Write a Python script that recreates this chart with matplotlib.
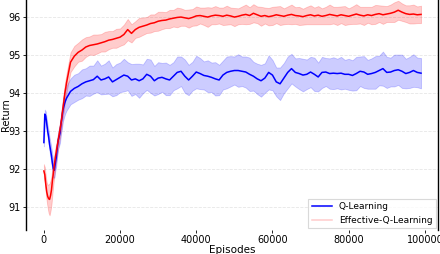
import numpy as np
import matplotlib
matplotlib.use("Agg")
import matplotlib.pyplot as plt
from matplotlib.lines import Line2D

# episodes: fine steps at the start, then every 1000
episodes = list(range(0, 6001, 250)) + list(range(7000, 99001, 1000))

q_mean = [
    92.70, 93.45, 93.40, 93.20, 93.00, 92.85, 92.65, 92.50, 92.35, 92.15,
    92.00, 91.97, 92.15, 92.30, 92.55, 92.75, 92.85, 92.95, 93.20, 93.35,
    93.55, 93.65, 93.75, 93.82, 93.88,
    94.05, 94.13, 94.18, 94.25, 94.30, 94.33, 94.36, 94.45, 94.35, 94.38,
    94.43, 94.30, 94.36, 94.42, 94.48, 94.45, 94.35, 94.38, 94.33, 94.38,
    94.50, 94.45, 94.33, 94.40, 94.42, 94.38, 94.35, 94.45, 94.55, 94.58,
    94.45, 94.35, 94.45, 94.56, 94.52, 94.47, 94.45, 94.42, 94.38, 94.35,
    94.48, 94.55, 94.58, 94.60, 94.60, 94.58, 94.56, 94.50, 94.45, 94.38,
    94.33, 94.40, 94.55, 94.48, 94.30, 94.25, 94.40, 94.55, 94.65, 94.55,
    94.52, 94.48, 94.50, 94.56, 94.50, 94.43, 94.55, 94.56, 94.52, 94.53,
    94.52, 94.53, 94.50, 94.50, 94.47, 94.52, 94.58, 94.56, 94.50, 94.52,
    94.55, 94.60, 94.65, 94.55, 94.56, 94.60, 94.62, 94.58, 94.52, 94.55,
    94.60, 94.55, 94.53,
]
q_std = [
    0.10, 0.12, 0.12, 0.13, 0.15, 0.17, 0.18, 0.20, 0.20, 0.22,
    0.22, 0.20, 0.20, 0.22, 0.22, 0.22, 0.24, 0.25, 0.27, 0.28,
    0.30, 0.30, 0.32, 0.32, 0.33,
    0.34, 0.36, 0.35, 0.38, 0.36, 0.40, 0.37, 0.42, 0.38, 0.40,
    0.44, 0.38, 0.41, 0.39, 0.43, 0.37, 0.42, 0.40, 0.45, 0.38,
    0.41, 0.44, 0.39, 0.42, 0.38, 0.43, 0.40, 0.37, 0.42, 0.39,
    0.44, 0.40, 0.38, 0.43, 0.41, 0.37, 0.42, 0.39, 0.44, 0.40,
    0.38, 0.42, 0.40, 0.37, 0.43, 0.39, 0.41, 0.44, 0.38, 0.40,
    0.42, 0.39, 0.45, 0.40, 0.38, 0.43, 0.40, 0.42, 0.39, 0.37,
    0.41, 0.43, 0.39, 0.40, 0.44, 0.38, 0.41, 0.37, 0.40, 0.42,
    0.39, 0.43, 0.38, 0.41, 0.40, 0.44, 0.39, 0.42, 0.38, 0.40,
    0.43, 0.39, 0.45, 0.41, 0.38, 0.42, 0.40, 0.44, 0.39, 0.41,
    0.43, 0.39, 0.40,
]

eq_mean = [
    91.95, 91.85, 91.60, 91.40, 91.28, 91.22, 91.20, 91.30, 91.45, 91.70,
    91.90, 92.10, 92.30, 92.45, 92.60, 92.75, 92.90, 93.05, 93.20, 93.40,
    93.60, 93.78, 94.00, 94.15, 94.30,
    94.82, 94.98, 95.08, 95.14, 95.22, 95.26, 95.28, 95.30, 95.33, 95.36,
    95.40, 95.42, 95.45, 95.48, 95.55, 95.68, 95.58, 95.68, 95.74, 95.77,
    95.80, 95.84, 95.86, 95.90, 95.92, 95.93, 95.96, 95.98, 96.00, 96.01,
    95.99, 95.97, 96.00, 96.04, 96.05, 96.03, 96.01, 96.04, 96.06, 96.05,
    96.03, 96.06, 96.04, 96.01, 96.03, 96.06, 96.08, 96.05, 96.11, 96.07,
    96.03, 96.05, 96.02, 96.04, 96.07, 96.05, 96.03, 96.06, 96.08, 96.05,
    96.04, 96.02, 96.05, 96.07, 96.04, 96.06, 96.03, 96.05, 96.08, 96.06,
    96.04, 96.07, 96.05, 96.03, 96.06, 96.09, 96.06, 96.04, 96.07, 96.05,
    96.08, 96.10, 96.07, 96.09, 96.11, 96.14, 96.19, 96.14, 96.10, 96.08,
    96.09, 96.07, 96.08,
]
eq_std = [
    0.18, 0.20, 0.22, 0.25, 0.30, 0.38, 0.42, 0.40, 0.38, 0.35,
    0.30, 0.28, 0.25, 0.22, 0.22, 0.20, 0.20, 0.20, 0.20, 0.22,
    0.22, 0.24, 0.25, 0.25, 0.25,
    0.26, 0.27, 0.25, 0.28, 0.26, 0.24, 0.27, 0.25, 0.23, 0.26,
    0.24, 0.22, 0.25, 0.23, 0.26, 0.28, 0.24, 0.22, 0.25, 0.23,
    0.21, 0.24, 0.22, 0.25, 0.23, 0.21, 0.24, 0.22, 0.26, 0.23,
    0.21, 0.24, 0.22, 0.25, 0.21, 0.23, 0.26, 0.22, 0.24, 0.21,
    0.23, 0.25, 0.22, 0.24, 0.21, 0.23, 0.26, 0.22, 0.24, 0.22,
    0.25, 0.21, 0.23, 0.24, 0.22, 0.25, 0.21, 0.23, 0.26, 0.22,
    0.24, 0.21, 0.23, 0.25, 0.22, 0.24, 0.21, 0.23, 0.26, 0.22,
    0.24, 0.22, 0.25, 0.21, 0.23, 0.26, 0.22, 0.24, 0.21, 0.23,
    0.25, 0.22, 0.24, 0.21, 0.23, 0.26, 0.25, 0.23, 0.22, 0.24,
    0.25, 0.22, 0.23,
]

x = np.array(episodes)
q_mean = np.array(q_mean)
q_std = np.array(q_std)
eq_mean = np.array(eq_mean)
eq_std = np.array(eq_std)

fig = plt.figure(figsize=(4.4, 2.54), dpi=100)
ax = fig.add_axes([0.059, 0.094, 0.936, 0.906])

ax.fill_between(x, q_mean - q_std, q_mean + q_std, color='#0000ff',
                alpha=0.2, linewidth=0.6)
ax.plot(x, q_mean, color='#0000ff', linewidth=1.1)
ax.fill_between(x, eq_mean - eq_std, eq_mean + eq_std, color='#ff0000',
                alpha=0.2, linewidth=0.6)
ax.plot(x, eq_mean, color='#ff0000', linewidth=1.1)

ax.set_xlim(-4700, 103400)
ax.set_ylim(90.39, 96.46)
ax.set_xticks([0, 20000, 40000, 60000, 80000, 100000])
ax.set_yticks([91, 92, 93, 94, 95, 96])
ax.tick_params(labelsize=7, length=2, width=0.6, pad=1.5)
ax.grid(axis='y', linestyle='--', color='#e6e6e6', linewidth=0.6)
ax.set_axisbelow(True)

for s in ['top', 'bottom']:
    ax.spines[s].set_visible(False)
for s in ['left', 'right']:
    ax.spines[s].set_linewidth(1.0)
    ax.spines[s].set_color('black')

ax.set_xlabel('Episodes', fontsize=7.5, labelpad=0)
ax.set_ylabel('Return', fontsize=7)
ax.yaxis.set_label_coords(-0.036, 0.5)

handles = [Line2D([], [], color='#0000ff', linewidth=1.1),
           Line2D([], [], color='#ffcccc', linewidth=1.1)]
leg = ax.legend(handles, ['Q-Learning', 'Effective-Q-Learning'],
                loc='lower right', fontsize=6.5, frameon=True, fancybox=False,
                borderaxespad=0.2, handlelength=2.2, labelspacing=0.5)
leg.get_frame().set_edgecolor('#d0d0d0')
leg.get_frame().set_linewidth(0.8)

fig.savefig('out.png', dpi=100)
